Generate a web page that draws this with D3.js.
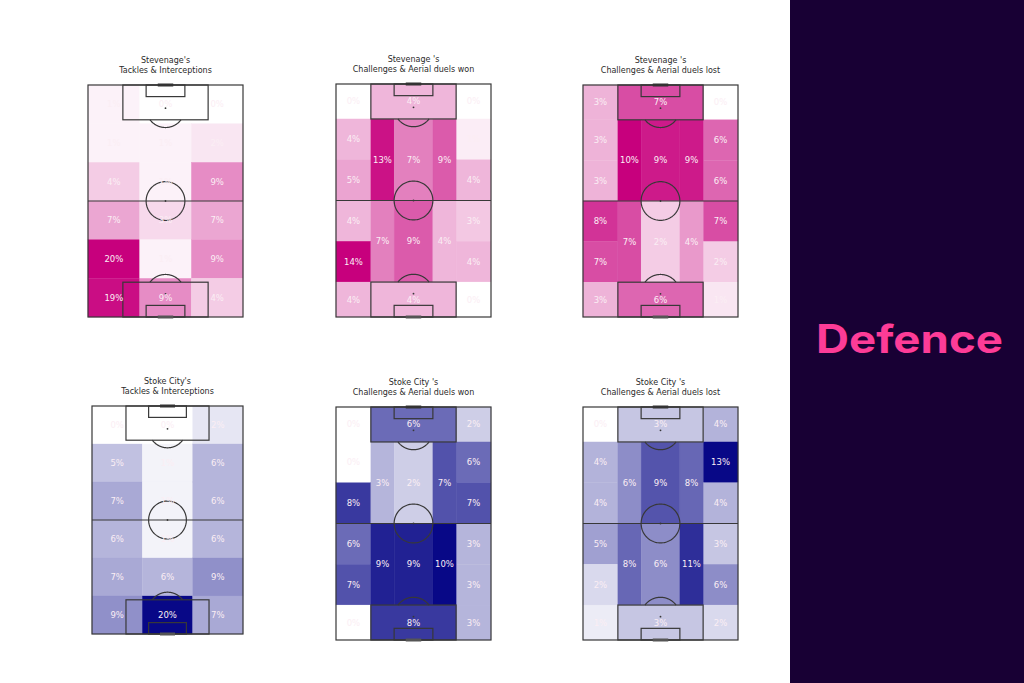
<!DOCTYPE html>
<html><head><meta charset="utf-8">
<script src="https://cdn.jsdelivr.net/npm/d3@7"></script>
<style>body{margin:0;background:#fff}svg{display:block}</style>
</head><body>
<svg id="chart" width="1024" height="683"></svg>
<script>
// ---------------- DATA ----------------
const teams = ["Stevenage", "Stoke City"];
const metricTitles = ["Tackles & Interceptions", "Challenges & Aerial duels won", "Challenges & Aerial duels lost"];
const sideTitle = "Defence";

// 3 x 6 grid (rows from top to bottom, columns left to right), percentages
const stevenageTackles = [[1,0,0],[1,1,2],[4,1,9],[7,3,7],[20,1,9],[19,9,4]];
const stokeTackles     = [[0,0,2],[5,1,6],[7,1,6],[6,1,6],[7,6,9],[9,20,7]];

// positional zones (pitch units: width 80, length 120)
const wingRowEdges = [0,18,39,60,81,102,120];
const laneRowEdges = [18,60,102];
const laneColumns = {leftWing:[0,18], leftHalf:[18,30], centre:[30,50], rightHalf:[50,62], rightWing:[62,80]};
const boxRows = [[0,18],[102,120]];

// Stevenage won
const stevWonLeftWing  = [0,4,5,4,14,4];
const stevWonLeftHalf  = [13,7];
const stevWonCentre    = [7,9];
const stevWonRightHalf = [9,4];
const stevWonRightWing = [0,1,4,3,4,0];
const stevWonBoxes     = [4,4];
// Stevenage lost
const stevLostLeftWing  = [3,3,3,8,7,3];
const stevLostLeftHalf  = [10,7];
const stevLostCentre    = [9,2];
const stevLostRightHalf = [9,4];
const stevLostRightWing = [0,6,6,7,2,1];
const stevLostBoxes     = [7,6];
// Stoke won
const stokeWonLeftWing  = [0,0,8,6,7,0];
const stokeWonLeftHalf  = [3,9];
const stokeWonCentre    = [2,9];
const stokeWonRightHalf = [7,10];
const stokeWonRightWing = [2,6,7,3,3,3];
const stokeWonBoxes     = [6,8];
// Stoke lost
const stokeLostLeftWing  = [0,4,4,5,2,1];
const stokeLostLeftHalf  = [6,8];
const stokeLostCentre    = [9,6];
const stokeLostRightHalf = [8,11];
const stokeLostRightWing = [4,13,4,3,6,2];
const stokeLostBoxes     = [3,3];

// ---------------- STYLE / LAYOUT ----------------
const teamColors = ["rgb(199,0,125)", "rgb(8,8,135)"];
const panelBoxes = [
  [[88,85,243,317],[336,84,491,317],[583,85,738,317]],
  [[92,406,243,634],[336,407,491,640],[583,407,738,640]]
];
const lineColor = "#383838";
const textColor = "#fbeef4";

const svg = d3.select("#chart");

// side panel
svg.append("rect").attr("x",790).attr("y",0).attr("width",234).attr("height",683).attr("fill","#180034");
svg.append("text").attr("x",816).attr("y",353)
  .attr("font-family","Inter, Lato, 'Open Sans', sans-serif").attr("font-weight",700)
  .attr("font-size",39).attr("fill","#fd3c97")
  .attr("textLength",187).attr("lengthAdjust","spacingAndGlyphs").text(sideTitle);

function positionalCells(lw, lh, c, rh, rw, boxes){
  const cells = [];
  for (let i=0;i<6;i++){
    cells.push({x0:laneColumns.leftWing[0],x1:laneColumns.leftWing[1],y0:wingRowEdges[i],y1:wingRowEdges[i+1],v:lw[i]});
    cells.push({x0:laneColumns.rightWing[0],x1:laneColumns.rightWing[1],y0:wingRowEdges[i],y1:wingRowEdges[i+1],v:rw[i]});
  }
  for (let i=0;i<2;i++){
    cells.push({x0:laneColumns.leftHalf[0],x1:laneColumns.leftHalf[1],y0:laneRowEdges[i],y1:laneRowEdges[i+1],v:lh[i]});
    cells.push({x0:laneColumns.centre[0],x1:laneColumns.centre[1],y0:laneRowEdges[i],y1:laneRowEdges[i+1],v:c[i]});
    cells.push({x0:laneColumns.rightHalf[0],x1:laneColumns.rightHalf[1],y0:laneRowEdges[i],y1:laneRowEdges[i+1],v:rh[i]});
    cells.push({x0:laneColumns.leftHalf[0],x1:laneColumns.rightHalf[1],y0:boxRows[i][0],y1:boxRows[i][1],v:boxes[i]});
  }
  return cells;
}
function gridCells(grid){
  const cells = [];
  const nr = grid.length, nc = grid[0].length;
  grid.forEach((row,r)=>row.forEach((v,ci)=>{
    cells.push({x0:80*ci/nc,x1:80*(ci+1)/nc,y0:120*r/nr,y1:120*(r+1)/nr,v:v});
  }));
  return cells;
}

const panelCells = [
  [gridCells(stevenageTackles),
   positionalCells(stevWonLeftWing,stevWonLeftHalf,stevWonCentre,stevWonRightHalf,stevWonRightWing,stevWonBoxes),
   positionalCells(stevLostLeftWing,stevLostLeftHalf,stevLostCentre,stevLostRightHalf,stevLostRightWing,stevLostBoxes)],
  [gridCells(stokeTackles),
   positionalCells(stokeWonLeftWing,stokeWonLeftHalf,stokeWonCentre,stokeWonRightHalf,stokeWonRightWing,stokeWonBoxes),
   positionalCells(stokeLostLeftWing,stokeLostLeftHalf,stokeLostCentre,stokeLostRightHalf,stokeLostRightWing,stokeLostBoxes)]
];

function drawPanel(ti, mi){
  const [px0,py0,px1,py1] = panelBoxes[ti][mi];
  const x = d3.scaleLinear().domain([0,80]).range([px0,px1]);
  const y = d3.scaleLinear().domain([0,120]).range([py0,py1]);
  const cells = panelCells[ti][mi];
  const vmax = d3.max(cells, d=>d.v);
  const color = d3.scaleLinear().domain([0,vmax]).range(["#ffffff", teamColors[ti]]).interpolate(d3.interpolateRgb);
  const g = svg.append("g");

  // title
  const cx = (px0+px1)/2;
  const title = g.append("text").attr("text-anchor","middle").attr("font-family","'DejaVu Sans', sans-serif")
    .attr("font-size",8).attr("fill","#2a2a2a");
  const possessive = mi===0 ? teams[ti]+"'s" : teams[ti]+" 's";
  title.append("tspan").attr("x",cx).attr("y",py0-22).text(possessive);
  title.append("tspan").attr("x",cx).attr("y",py0-12.5).text(metricTitles[mi]);

  // cells
  g.selectAll("rect.cell").data(cells).join("rect").attr("class","cell")
    .attr("x",d=>x(d.x0)).attr("y",d=>y(d.y0))
    .attr("width",d=>x(d.x1)-x(d.x0)).attr("height",d=>y(d.y1)-y(d.y0))
    .attr("fill",d=>color(d.v)).attr("stroke",d=>color(d.v)).attr("stroke-width",0.3);

  // pitch lines
  const L = g.append("g").attr("fill","none").attr("stroke",lineColor).attr("stroke-width",1.2);
  const rect = (a,b,c,d)=>L.append("rect").attr("x",x(a)).attr("y",y(b)).attr("width",x(c)-x(a)).attr("height",y(d)-y(b));
  rect(0,0,80,120);
  L.append("line").attr("x1",x(0)).attr("x2",x(80)).attr("y1",y(60)).attr("y2",y(60));
  rect(18,0,62,18); rect(30,0,50,6);
  rect(18,102,62,120); rect(30,114,50,120);
  const line = d3.line().x(p=>x(p[0])).y(p=>y(p[1]));
  const circ = (cx0,cy0,r,a0,a1)=>d3.range(0,101).map(i=>{const a=a0+(a1-a0)*i/100;return [cx0+r*Math.cos(a),cy0+r*Math.sin(a)];});
  L.append("path").attr("d",line(circ(40,60,10,0,2*Math.PI)));
  const th = Math.acos(6/10);
  L.append("path").attr("d",line(circ(40,12,10,Math.PI/2-th,Math.PI/2+th)));
  L.append("path").attr("d",line(circ(40,108,10,-Math.PI/2-th,-Math.PI/2+th)));
  [[40,12],[40,60],[40,108]].forEach(p=>g.append("circle").attr("cx",x(p[0])).attr("cy",y(p[1])).attr("r",0.9).attr("fill",lineColor));
  // goals
  g.append("line").attr("x1",x(36)).attr("x2",x(44)).attr("y1",y(0)).attr("y2",y(0)).attr("stroke","#333").attr("stroke-width",3);
  g.append("line").attr("x1",x(36)).attr("x2",x(44)).attr("y1",y(120)).attr("y2",y(120)).attr("stroke","#555").attr("stroke-width",3);

  // labels
  g.selectAll("text.lab").data(cells).join("text").attr("class","lab")
    .attr("x",d=>x((d.x0+d.x1)/2)).attr("y",d=>y((d.y0+d.y1)/2)).attr("dy","0.35em")
    .attr("text-anchor","middle").attr("font-family","'DejaVu Sans', sans-serif").attr("font-size",8.5)
    .attr("fill",textColor).text(d=>d.v+"%");
}

for (let t=0;t<2;t++) for (let m=0;m<3;m++) drawPanel(t,m);
</script>
</body></html>
